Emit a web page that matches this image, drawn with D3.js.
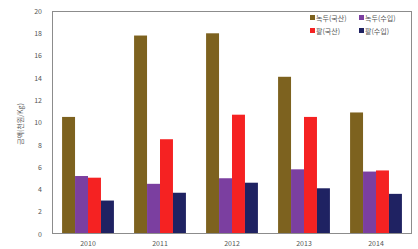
<!DOCTYPE html>
<html>
<head>
<meta charset="utf-8">
<script src="https://cdn.jsdelivr.net/npm/d3@7"></script>
<style>
  body { margin: 0; background: #fff; }
  text { font-family: "Noto Sans CJK KR", "DejaVu Sans", sans-serif; }
</style>
</head>
<body>
<div class="canvas"></div>
<script>
// Data
const years = ["2010", "2011", "2012", "2013", "2014"];
const seriesNames = ["녹두(국산)", "녹두(수입)", "팥(국산)", "팥(수입)"];
const mungDomestic = [10.5, 17.8, 18.0, 14.1, 10.9];
const mungImport = [5.2, 4.5, 5.0, 5.8, 5.6];
const adzukiDomestic = [5.05, 8.5, 10.7, 10.5, 5.7];
const adzukiImport = [3.0, 3.7, 4.6, 4.1, 3.6];
const yTicks = [0, 2, 4, 6, 8, 10, 12, 14, 16, 18, 20];

const seriesValues = [mungDomestic, mungImport, adzukiDomestic, adzukiImport];
const colors = ["#7d621f", "#7b3fa0", "#f52222", "#1f2262"];

const width = 418, height = 249;
const margin = { top: 11, right: 6, bottom: 15, left: 52 };
const innerW = width - margin.left - margin.right;
const innerH = height - margin.top - margin.bottom;

const svg = d3.select(".canvas").append("svg")
  .attr("width", width).attr("height", height);
const graph = svg.append("g")
  .attr("transform", `translate(${margin.left}, ${margin.top})`);

// Scales
const x0 = d3.scaleBand().domain(years).range([0, innerW]).paddingInner(0.28).paddingOuter(0.14);
const x1 = d3.scaleBand().domain(d3.range(seriesNames.length)).range([0, x0.bandwidth()]);
const y = d3.scaleLinear().domain([0, 20]).range([innerH, 0]);

// Bars
const groups = graph.selectAll(".year").data(years).enter().append("g")
  .attr("transform", (d) => `translate(${x0(d)}, 0)`);
groups.selectAll("rect")
  .data((d, i) => seriesValues.map((vals, s) => ({ s, v: vals[i] })))
  .enter().append("rect")
  .attr("x", (d) => x1(d.s))
  .attr("width", x1.bandwidth())
  .attr("y", (d) => y(d.v))
  .attr("height", (d) => innerH - y(d.v))
  .attr("fill", (d) => colors[d.s]);

// Plot border
graph.append("rect")
  .attr("x", 0.5).attr("y", 0.5)
  .attr("width", innerW - 1).attr("height", innerH - 1)
  .attr("fill", "none").attr("stroke", "#8c8c8c").attr("stroke-width", 1);

// Axes
const yAxis = graph.append("g")
  .call(d3.axisLeft(y).tickValues(yTicks).tickSize(0).tickPadding(10));
yAxis.select(".domain").remove();
yAxis.selectAll("text").attr("font-size", 7).attr("fill", "#555");

const xAxis = graph.append("g")
  .attr("transform", `translate(0, ${innerH})`)
  .call(d3.axisBottom(x0).tickSize(0).tickPadding(7));
xAxis.select(".domain").remove();
xAxis.selectAll("text").attr("font-size", 7).attr("fill", "#555");

// Y label
svg.append("text")
  .attr("transform", `translate(23, 124) rotate(-90)`)
  .attr("text-anchor", "middle")
  .attr("font-size", 7)
  .attr("fill", "#555")
  .text("금액(천원/Kg)");

// Legend
const legend = svg.append("g").attr("transform", "translate(310, 18)");
const items = legend.selectAll("g").data(seriesNames).enter().append("g")
  .attr("transform", (d, i) => `translate(${(i % 2) * 49}, ${Math.floor(i / 2) * 13})`);
items.append("rect")
  .attr("x", 0).attr("y", -3).attr("width", 5).attr("height", 5)
  .attr("fill", (d, i) => colors[i]);
items.append("text")
  .attr("x", 6).attr("y", 2.5)
  .attr("font-size", 7).attr("fill", "#555")
  .text((d) => d);
</script>
</body>
</html>
